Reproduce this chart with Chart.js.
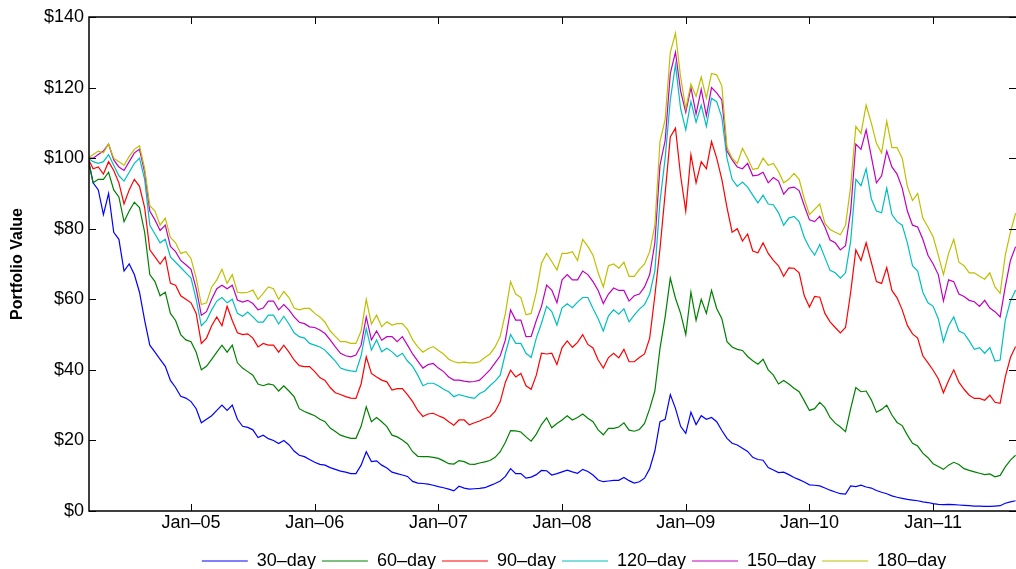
<!DOCTYPE html>
<html>
<head>
<meta charset="utf-8">
<script src="https://cdn.jsdelivr.net/npm/chart.js@4.4.1/dist/chart.umd.min.js"></script>
<style>
  html, body { margin: 0; padding: 0; background: #fff; overflow: hidden; }
  canvas { display: block; }
</style>
</head>
<body>
<canvas id="chart" width="1016" height="569"></canvas>
<script>
/* Portfolio value of rolling option strategies, Mar 2004 - Aug 2011.
   Values on a semi-monthly grid (1st and 16th). */

var seriesNames = ['30–day', '60–day', '90–day', '120–day', '150–day', '180–day'];
var seriesColors = ['#0000ff', '#008000', '#ff0000', '#00bfbf', '#bf00bf', '#bfbf00'];

var tickYears = [2005, 2006, 2007, 2008, 2009, 2010, 2011];
var tickLabels = ['Jan–05', 'Jan–06', 'Jan–07', 'Jan–08', 'Jan–09', 'Jan–10', 'Jan–11'];

var day30 = [
  100, 93, 91, 84, 90, 79, 77, 68, 70, 67,
  62, 54, 47, 45, 43, 41, 37, 35, 32.5, 32,
  31, 29, 25, 26, 27, 28.5, 30, 28.5, 30, 26,
  24, 23.7, 23, 20.8, 21.5, 20.5, 20, 19.1, 20, 18.8,
  17, 15.8, 15.4, 14.6, 13.8, 13.2, 13, 12.3, 11.8, 11.3,
  11, 10.6, 10.6, 13, 16.8, 14, 14.2, 13, 12.2, 11,
  10.6, 10.2, 9.8, 8.4, 7.9, 7.8, 7.6, 7.3, 6.9, 6.6,
  6.2, 5.7, 7, 6.5, 6.2, 6.3, 6.4, 6.6, 7.2, 7.8,
  8.5, 9.8, 12, 10.6, 10.6, 9.3, 9.6, 10.3, 11.5, 11.4,
  10.2, 10.6, 11.1, 11.6, 11.1, 10.7, 11.8, 11.2, 10.2, 8.8,
  8.3, 8.5, 8.7, 8.7, 9.5, 8.6, 7.9, 8.3, 9.3, 12,
  17, 25.3, 26, 33, 29.1, 24, 22, 28, 24.5, 27,
  26, 26.5, 25.3, 22.8, 20.6, 19.2, 18.7, 17.8, 16.9, 15.2,
  14.6, 14.4, 12.3, 11.6, 10.9, 11, 10.3, 9.5, 8.9, 8.2,
  7.4, 7.3, 7.1, 6.5, 5.9, 5.4, 4.9, 4.8, 7.1, 6.9,
  7.3, 6.8, 6.5, 5.8, 5.3, 4.9, 4.3, 3.9, 3.6, 3.3,
  3.1, 2.9, 2.6, 2.4, 2.1, 1.9, 1.8, 1.9, 1.8, 1.7,
  1.6, 1.5, 1.4, 1.4, 1.3, 1.3, 1.4, 1.5, 2.2, 2.6,
  2.9
];

var day60 = [
  100, 93, 94, 94, 96, 91, 89, 82, 85, 87.5,
  86, 79, 67, 65, 61, 62, 56, 54, 50, 48.5,
  48, 45, 40, 41, 43, 45, 47, 45, 47, 42,
  40.5, 39.5, 38.5, 36, 35.5, 36, 35.7, 34, 35.5, 34,
  32.4, 29, 28.2, 27.6, 27, 26, 25.3, 23.5, 22.5, 21.5,
  21, 20.6, 20.6, 24, 29.5, 25.3, 26.5, 25.3, 23.9, 21.5,
  21, 20.1, 19, 16.8, 15.5, 15.4, 15.4, 15.2, 14.9, 14.2,
  13.4, 13.3, 14.3, 14, 13.3, 13.2, 13.6, 13.9, 14.3, 15.2,
  16.8, 19.5, 22.8, 22.7, 22.4, 21, 19.8, 21.8, 24.5, 26.4,
  23.6, 24.8, 25.8, 27, 25.8, 26.5, 27.5, 26.3, 25.3, 23,
  21.6, 23.4, 23.4, 23.8, 25, 22.9, 22.6, 23.1, 24.8, 29,
  34, 46.1, 55, 66, 60.3, 56, 50, 62, 54, 60,
  56, 62.5, 57.4, 54.5, 48, 46.5, 45.8, 45.5, 43.8, 42.6,
  41.6, 43, 40, 38.5, 36, 37, 36, 34.8, 33.8, 31.2,
  28.5, 29, 30.8, 29.3, 26.5, 24.9, 23.8, 22.5, 29, 35,
  33.8, 34, 31.5, 28, 28.8, 30, 27.2, 25.1, 24.2, 21.5,
  19.2, 18.4, 16.4, 15.1, 13.4, 12.6, 11.8, 13, 13.8, 13.2,
  12, 11.5, 11.1, 10.7, 10.3, 10.5, 9.7, 10.1, 12.5, 14.4,
  15.8
];

var day90 = [
  100, 97, 97.5, 95.5, 99, 96.5, 93, 87, 91, 94,
  92, 86, 74, 72, 70, 72, 64.5, 64, 61, 60,
  59, 56, 47.5, 49, 52.5, 55, 52.5, 58, 54, 50.5,
  50, 50.2, 49, 46.5, 47.5, 47, 47, 45, 47, 45,
  42.8, 41.2, 40.9, 40.9, 39.5, 37.8, 37, 35, 33.5, 33,
  32.4, 32, 31.9, 36, 43.7, 39, 38, 37.1, 36.6, 34.3,
  34.7, 34.7, 33, 31, 28.5, 26.8, 27.5, 27.7, 27, 26.4,
  25.3, 24.3, 25.8, 25.8, 24.4, 25, 25.5, 26.2, 26.7, 28.2,
  31, 36.5, 39.9, 38, 39, 35.5, 34.5, 38.5, 44.7, 44.5,
  44.7, 41.5, 46.3, 48.2, 46.4, 47.8, 50, 47.2, 46.2, 42.8,
  40.5, 43.5, 44.7, 43.4, 45.8, 42.3, 42.3, 43.5, 44.5, 49,
  61, 74.4, 90, 106, 108.5, 95, 85, 101, 93, 99,
  97, 104.7, 100, 94, 86, 79, 80, 76.5, 78.5, 73.7,
  73.2, 76, 73, 71, 69.5, 66.5, 68.9, 68.8, 67.5, 61,
  57.8, 60.8, 60.6, 56, 53.6, 52, 50.5, 52, 62, 74,
  71, 76, 70.5, 65, 64.5, 69, 62.5, 60.4, 57, 52.6,
  50.2, 49, 44, 42, 39.9, 37.5, 33.5, 37, 40, 36.5,
  34.5, 32.8, 31.9, 31.9, 31.4, 32.8, 30.8, 30.5, 38, 43.5,
  46.6
];

var day120 = [
  100, 99, 98.5, 99, 101, 98, 95, 93.5, 96, 98.5,
  100, 94, 81, 78.5, 76, 77, 72, 70.5, 69, 67.5,
  66, 60, 52.5, 54, 57, 59.5, 60.5, 59, 60, 56,
  55.2, 56.4, 55, 53.5, 53.5, 55.5, 55.5, 53, 55.2, 53,
  50.5, 49.4, 49, 47.5, 47, 46.5, 45.6, 44, 42.5, 40.5,
  40, 39.7, 39.5, 44, 51.7, 45.6, 48.5, 45.1, 46.1, 45.1,
  43.7, 44.7, 42.5, 41, 38.5, 35.5, 36.2, 36.2, 35.5, 34.5,
  33.8, 32.4, 33, 32.6, 32.2, 31.9, 33.3, 34, 35.5, 36.8,
  38.5, 44.7, 50, 47.5, 47.5, 44.7, 43.5, 49, 53.2, 58,
  56.5, 52.7, 57.6, 58.7, 57.6, 59.2, 60.5, 60.5, 57.4, 54.5,
  51, 55.3, 57, 55.8, 57.3, 53.6, 55.5, 57.2, 58.5, 61.5,
  68, 87.7, 100, 116.5, 126.5, 114, 108, 116, 110.2, 115,
  109, 117, 116, 111.5, 100, 94, 92, 93.2, 91.8, 89.5,
  87.3, 89.5, 87, 86.8, 84.5, 81, 83, 83.5, 82, 77.5,
  74.6, 72.5, 75.5, 71.8, 68.2, 67.5, 66, 67.5, 76.5, 94,
  92.2, 97, 88.5, 85, 84.5, 91.5, 84, 82, 81, 76,
  69.5, 68, 62, 59, 58, 54.5, 48, 52.5, 55, 51,
  50.3, 48.2, 45.8, 46.3, 44.7, 46.3, 42.5, 42.8, 54, 59.5,
  62.6
];

var day150 = [
  100, 100, 101, 102, 104, 99.5, 97.5, 96.5, 99, 101.5,
  102.5, 96, 85, 82.5, 79.5, 81, 75, 73.5, 71, 69.8,
  68.5, 63, 55.5, 56.5, 60, 63, 64, 63, 64, 59.8,
  59.2, 59.7, 58.8, 57, 57.5, 59.5, 59.5, 57, 58.5, 57,
  55, 53.5, 53.1, 52.2, 52, 51.3, 50.3, 48.5, 46.5, 44.7,
  44, 43.7, 44.2, 47, 55, 48.5, 51, 48.4, 49.4, 49.4,
  48, 49.4, 47, 44.5, 42.5, 40.5, 41.5, 41.8, 40.5, 39.5,
  38, 37.1, 37.1, 36.8, 36.6, 36.7, 37.1, 38.5, 40, 42,
  44, 48.5, 57, 54.1, 54.1, 49.4, 49.5, 54, 58, 64,
  62.6, 59, 65.5, 67, 65.5, 65.5, 68, 67, 65, 62.5,
  58.8, 61.5, 63.2, 62.5, 62.5, 59.5, 61, 61.5, 63.5, 67,
  76, 98, 105, 124, 130, 119, 113, 120, 112.5, 119.5,
  112, 120, 118.5, 116.5, 102, 99.5, 97.5, 97, 98.5, 95,
  95.2, 96, 93, 94.5, 93.5, 89.8, 91.5, 91.8, 90.8, 86.5,
  82.5, 82, 83.5, 80.5, 76.8, 76, 74, 75.2, 85, 104,
  102.5, 108, 100.5, 93, 95, 102, 97.5, 95.5, 91.5, 85,
  81, 80.5, 77, 72.5, 70, 67, 59.5, 65.5, 65, 61.5,
  60.8, 59.7, 59.3, 58, 59.7, 57.5, 56.5, 55, 63.6, 71,
  74.9
];

var day180 = [
  100, 101, 102, 101.5, 104, 100, 99, 98, 100.5, 102.5,
  103.5, 97, 86.5, 85, 81, 83, 77.5, 76, 73, 73.5,
  71.5, 66, 58.5, 59, 63.5, 65.5, 68.5, 64.5, 67, 62,
  61.8, 62, 62.6, 60, 61.7, 63.5, 63, 60, 62.2, 60.5,
  57.5, 57, 57.4, 57.4, 56, 55, 53.5, 51, 49.5, 48,
  48, 47.5, 47.5, 51, 60, 53, 55.5, 52.2, 53.6, 52.7,
  53.1, 53.1, 51.5, 48.5, 46.5, 45, 46, 46.6, 45.5, 44.5,
  43, 42.3, 42, 42.2, 42, 42, 42.3, 43.5, 44.5, 46.5,
  49.5, 56, 65, 61.5, 60.5, 55.6, 56, 62, 70.2, 73,
  70.7, 68.3, 73, 73, 73.5, 71, 77, 75, 72.5, 67.5,
  63.5, 69.5, 70, 68.8, 70.5, 66.5, 66.5, 68.5, 70, 73.5,
  81, 104.7, 111, 130, 135.4, 123, 114, 121, 117.5, 123,
  117, 124, 123.6, 120.5, 103, 100, 98.5, 102.8, 100, 96.8,
  97.1, 100, 98, 98.5, 96.2, 93, 94, 95.7, 94, 88.5,
  84, 85.5, 87, 81.5, 79.8, 79, 78.3, 81, 92, 109,
  107, 115, 110, 104.2, 101.5, 110.5, 103, 103, 100, 92,
  88, 90, 83, 80.5, 77.7, 72.5, 67, 73, 77, 70.5,
  69.5, 67.5, 67.5, 66.5, 65.7, 67.5, 63.5, 61.7, 72.5, 79,
  84.4
];

var allSeries = [day30, day60, day90, day120, day150, day180];

// sampling dates as decimal years: 1st and 16th of each month from Mar 2004
var dates = day30.map(function (_, k) {
    return 2004 + (2 + Math.floor(k / 2)) / 12 + (k % 2) / 24;
});

var FONT = "'Liberation Sans', Arial, Helvetica, sans-serif";

// MATLAB-style box with inward tick marks
var axesBox = {
    id: 'axesBox',
    afterLayout: function (chart) {
        // legend in the reference is centred under the (cropped) axes
        chart.legend.left += 66;
        chart.legend.right += 66;
    },
    afterDraw: function (chart) {
        var ctx = chart.ctx, a = chart.chartArea, x = chart.scales.x, y = chart.scales.y;
        var len = 7;
        ctx.save();
        ctx.strokeStyle = '#000';
        ctx.lineWidth = 1;
        ctx.beginPath();
        x.ticks.forEach(function (t) {
            var px = Math.round(x.getPixelForValue(t.value)) + 0.5;
            ctx.moveTo(px, a.bottom); ctx.lineTo(px, a.bottom - len);
            ctx.moveTo(px, a.top); ctx.lineTo(px, a.top + len);
        });
        y.ticks.forEach(function (t) {
            var py = Math.round(y.getPixelForValue(t.value)) + 0.5;
            ctx.moveTo(a.left, py); ctx.lineTo(a.left + len, py);
            ctx.moveTo(a.right, py); ctx.lineTo(a.right - len, py);
        });
        ctx.stroke();
        ctx.lineWidth = 1.5;
        ctx.beginPath();
        ctx.moveTo(a.right, a.top); ctx.lineTo(a.left, a.top);
        ctx.lineTo(a.left, a.bottom); ctx.lineTo(a.right, a.bottom);
        ctx.stroke();
        ctx.restore();
    }
};

new Chart(document.getElementById('chart'), {
    type: 'line',
    data: {
        datasets: allSeries.map(function (vals, i) {
            return {
                label: seriesNames[i],
                data: vals.map(function (v, k) { return { x: dates[k], y: v }; }),
                borderColor: seriesColors[i],
                backgroundColor: seriesColors[i],
                borderWidth: 1.2,
                pointRadius: 0,
                tension: 0,
                fill: false,
                order: allSeries.length - i
            };
        })
    },
    options: {
        responsive: false,
        devicePixelRatio: 1,
        animation: false,
        events: [],
        layout: { padding: { top: 17, right: 0, bottom: -11, left: 0 } },
        plugins: {
            tooltip: { enabled: false },
            legend: {
                position: 'bottom',
                labels: {
                    usePointStyle: true,
                    pointStyle: 'line',
                    pointStyleWidth: 46,
                    padding: 6,
                    color: '#000',
                    font: { family: FONT, size: 18 },
                    sort: function (a, b) { return a.datasetIndex - b.datasetIndex; }
                }
            }
        },
        scales: {
            x: {
                type: 'linear',
                min: 2004.175,
                max: 2011.67,
                grid: { display: false, drawTicks: false },
                border: { display: false },
                afterBuildTicks: function (scale) {
                    scale.ticks = tickYears.map(function (v) { return { value: v }; });
                },
                afterFit: function (scale) { scale.height = 35; },
                ticks: {
                    autoSkip: false,
                    maxRotation: 0,
                    padding: 1,
                    color: '#000',
                    font: { family: FONT, size: 18 },
                    callback: function (v, i) { return tickLabels[i]; }
                }
            },
            y: {
                min: 0,
                max: 140,
                grid: { display: false, drawTicks: false },
                border: { display: false },
                afterFit: function (scale) { scale.width = 89; },
                ticks: {
                    stepSize: 20,
                    padding: 5,
                    color: '#000',
                    font: { family: FONT, size: 18 },
                    callback: function (v) { return '$' + v; }
                },
                title: {
                    display: true,
                    text: 'Portfolio Value',
                    color: '#000',
                    font: { family: FONT, size: 16, weight: 'bold' },
                    padding: { top: 8, bottom: 0 }
                }
            }
        }
    },
    plugins: [axesBox]
});
</script>
</body>
</html>
